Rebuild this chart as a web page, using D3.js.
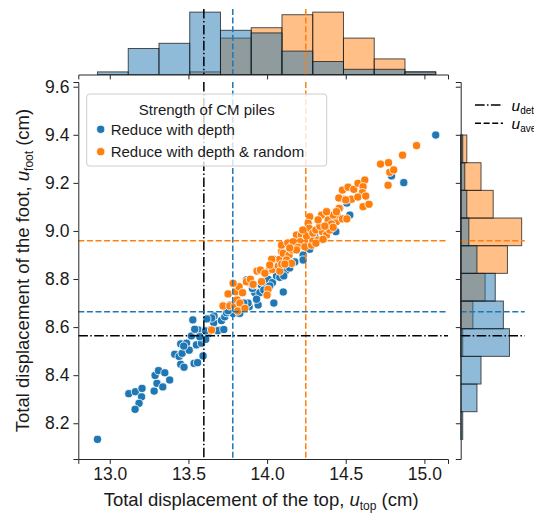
<!DOCTYPE html>
<html><head><meta charset="utf-8">
<script src="https://cdn.jsdelivr.net/npm/d3@7"></script>
<style>
body{margin:0;background:#fff;}
svg{display:block;font-family:"Liberation Sans",Arial,sans-serif;}
</style>
</head><body>
<svg id="c" width="534" height="518"></svg>
<script>
// ---------------- DATA ----------------
const seriesNames = ["Reduce with depth", "Reduce with depth & random"];
const seriesColors = ["#1f77b4", "#ff7f0e"];
const legendTitle = "Strength of CM piles";

const blueX = [12.922,13.121,13.163,13.205,13.202,13.186,13.161,13.282,13.300,13.288,13.310,13.350,13.413,13.441,13.451,13.472,13.460,13.451,13.488,13.505,
13.536,13.558,13.593,13.551,13.583,13.519,13.551,13.566,13.589,13.625,13.636,13.470,13.381,13.337,13.561,13.540,13.610,13.661,13.678,13.663,
13.700,13.608,13.572,13.528,13.648,13.617,13.687,
13.710,13.731,13.742,13.784,13.774,13.801,13.725,13.826,13.886,13.879,13.869,13.752,13.896,13.852,13.763,13.839,13.795,
13.922,13.954,13.964,13.992,14.006,14.034,14.043,14.060,14.081,14.081,13.943,13.933,14.017,13.907,13.911,13.979,
14.102,14.119,14.106,14.103,14.229,14.229,14.271,14.176,14.144,
14.437,14.462,14.335,14.303,14.386,
14.526,14.507,14.791,14.869,15.072];
const blueY = [8.133,8.323,8.331,8.345,8.310,8.283,8.258,8.334,8.366,8.399,8.419,8.410,8.487,8.478,8.445,8.433,8.491,8.530,8.533,8.504,
8.449,8.452,8.480,8.526,8.533,8.563,8.585,8.590,8.567,8.571,8.588,8.521,8.380,8.351,8.588,8.591,8.549,8.618,8.586,8.646,
8.588,8.584,8.560,8.630,8.638,8.634,8.585,
8.627,8.643,8.660,8.657,8.678,8.678,8.590,8.657,8.685,8.700,8.796,8.668,8.782,8.700,8.692,8.679,8.690,
8.743,8.743,8.775,8.782,8.799,8.785,8.700,8.813,8.838,8.807,8.692,8.716,8.771,8.761,8.775,8.754,
8.879,8.835,8.813,8.746,8.900,8.879,8.924,8.871,8.846,
8.997,9.094,8.962,8.979,9.037,
9.066,9.116,9.229,9.201,9.399];

const orangeX = [13.647,13.720,13.752,13.763,13.795,13.809,13.801,13.822,13.844,13.827,13.814,13.859,13.869,13.894,13.784,
13.911,13.936,13.958,14.006,14.000,14.013,14.034,14.043,14.071,14.081,14.081,13.965,13.986,14.029,14.093,14.092,14.092,14.017,
14.102,14.140,14.157,14.124,14.132,14.187,14.218,14.240,14.209,14.166,14.197,14.240,14.283,14.271,14.261,14.267,14.289,14.251,14.155,14.187,14.113,14.227,14.144,14.291,
14.346,14.388,14.441,14.445,14.409,14.458,14.310,14.352,14.378,14.324,14.356,14.399,14.479,14.488,14.479,14.420,14.378,14.441,14.420,14.310,14.335,14.456,14.324,14.367,
14.515,14.551,14.578,14.621,14.610,14.606,14.537,14.610,14.648,14.500,14.577,14.627,14.507,
14.721,14.772,14.780,14.805,14.769,14.861,14.950];
const orangeY = [8.588,8.688,8.738,8.688,8.688,8.713,8.747,8.768,8.743,8.700,8.667,8.678,8.789,8.799,8.782,
8.778,8.833,8.837,8.757,8.733,8.837,8.840,8.882,8.854,8.882,8.833,8.789,8.824,8.882,8.862,8.914,8.941,8.858,
8.907,8.900,8.921,8.879,8.950,8.983,8.983,8.962,8.955,8.955,8.932,8.934,8.941,9.059,9.032,9.011,8.965,8.979,8.865,8.921,8.862,9.004,8.929,8.991,
9.066,9.046,9.039,9.066,9.029,9.094,9.004,8.997,8.983,8.962,8.965,9.004,9.170,9.132,9.050,9.066,9.080,9.080,9.015,8.949,9.020,9.137,9.046,9.020,
9.182,9.173,9.198,9.212,9.184,9.159,9.132,9.101,9.111,9.129,9.141,9.145,9.050,
9.278,9.284,9.244,9.254,9.190,9.315,9.355];

const xTicks = [13.0, 13.5, 14.0, 14.5, 15.0];
const yTicks = [8.2, 8.4, 8.6, 8.8, 9.0, 9.2, 9.4, 9.6];
const xDomain = [12.80, 15.15];
const yDomain = [8.0513, 9.6196];
const binCount = 11;

// reference lines: deterministic, average (blue), average (orange)
const refNames  = ["det", "aveBlue", "aveOrange"];
const refXs     = [13.598, 13.782, 14.246];
const refYs     = [8.564, 8.664, 8.959];
const refColors = ["#000000", "#1f77b4", "#ff7f0e"];
const refStyles = ["dashdot", "dashed", "dashed"];
const legendLines = [{style:"dashdot", sub:"det"}, {style:"dashed", sub:"ave"}];

// ---------------- LAYOUT ----------------
const M = {l:78.3, r:448, t:82, b:459};
const TOP = {t:9, b:74.5};
const RIGHT = {l:460.7, r:524.7};
const dash = {dashed:"6,2.6", dashdot:"9.6,2.4,1.5,2.4"};
const axisColor = "#262626";

const svg = d3.select("#c");
const x = d3.scaleLinear().domain(xDomain).range([M.l, M.r]);
const y = d3.scaleLinear().domain(yDomain).range([M.b, M.t]);

const series = [
  {name:seriesNames[0], color:seriesColors[0], xs:blueX, ys:blueY},
  {name:seriesNames[1], color:seriesColors[1], xs:orangeX, ys:orangeY}
];

// bins over the combined data extent
function edges(arr){
  const [lo, hi] = d3.extent(arr);
  return d3.range(binCount + 1).map(i => lo + i * (hi - lo) / binCount);
}
function counts(vals, e){
  const c = new Array(binCount).fill(0);
  vals.forEach(v => {
    let k = Math.floor((v - e[0]) / (e[binCount] - e[0]) * binCount);
    if (k >= binCount) k = binCount - 1;
    if (k < 0) k = 0;
    c[k]++;
  });
  return c;
}
const xe = edges(blueX.concat(orangeX));
const ye = edges(blueY.concat(orangeY));
series.forEach(s => { s.cx = counts(s.xs, xe); s.cy = counts(s.ys, ye); });

const maxCX = d3.max(series, s => d3.max(s.cx));
const maxCY = d3.max(series, s => d3.max(s.cy));
const hy = d3.scaleLinear().domain([0, maxCX * 1.05]).range([TOP.b, TOP.t]);
const hx = d3.scaleLinear().domain([0, maxCY * 1.05]).range([RIGHT.l, RIGHT.r]);

// ---------- top histogram (orange first, blue on top) ----------
const gTop = svg.append("g");
[series[1], series[0]].forEach(s => {
  gTop.selectAll(null).data(s.cx.map((c,i)=>({c,i}))).enter().append("rect")
    .attr("x", d => x(xe[d.i])).attr("width", d => x(xe[d.i+1]) - x(xe[d.i]))
    .attr("y", d => hy(d.c)).attr("height", d => hy(0) - hy(d.c))
    .attr("fill", s.color).attr("fill-opacity", 0.5)
    .attr("stroke", "#1a1a1a").attr("stroke-opacity", 0.75).attr("stroke-width", 1);
});
refXs.forEach((v,i) => {
  gTop.append("line").attr("x1", x(v)).attr("x2", x(v)).attr("y1", TOP.t).attr("y2", TOP.b)
    .attr("stroke", refColors[i]).attr("stroke-width", 1.5).attr("stroke-dasharray", dash[refStyles[i]]);
});
const topAxis = d3.axisBottom(x).tickValues(xTicks).tickSize(4.9).tickFormat("");
gTop.append("g").attr("transform", `translate(0,${TOP.b})`).call(topAxis)
  .call(g => { g.select(".domain").attr("stroke", axisColor); g.selectAll(".tick line").attr("stroke", axisColor); });

// ---------- right histogram ----------
const gR = svg.append("g");
[series[1], series[0]].forEach(s => {
  gR.selectAll(null).data(s.cy.map((c,i)=>({c,i}))).enter().append("rect")
    .attr("y", d => y(ye[d.i+1])).attr("height", d => y(ye[d.i]) - y(ye[d.i+1]))
    .attr("x", hx(0)).attr("width", d => hx(d.c) - hx(0))
    .attr("fill", s.color).attr("fill-opacity", 0.5)
    .attr("stroke", "#1a1a1a").attr("stroke-opacity", 0.75).attr("stroke-width", 1);
});
refYs.forEach((v,i) => {
  gR.append("line").attr("y1", y(v)).attr("y2", y(v)).attr("x1", RIGHT.l).attr("x2", RIGHT.r)
    .attr("stroke", refColors[i]).attr("stroke-width", 1.5).attr("stroke-dasharray", dash[refStyles[i]]);
});
const rAxis = d3.axisLeft(y).tickValues(yTicks).tickSize(4.9).tickFormat("");
gR.append("g").attr("transform", `translate(${RIGHT.l},0)`).call(rAxis)
  .call(g => { g.select(".domain").attr("stroke", axisColor); g.selectAll(".tick line").attr("stroke", axisColor); });

// right legend (partly beyond the picture edge, as in the reference)
legendLines.forEach((L, i) => {
  const ly = 105 + i * 18.3;
  gR.append("line").attr("x1", 475).attr("x2", 503).attr("y1", ly).attr("y2", ly)
    .attr("stroke", "#000").attr("stroke-width", 1.5).attr("stroke-dasharray", dash[L.style]);
  const t = gR.append("text").attr("x", 511.5).attr("y", ly + 5.5).attr("font-size", 15.5).attr("fill", "#000");
  t.append("tspan").attr("font-style", "italic").text("u");
  t.append("tspan").attr("font-size", 10).attr("dy", 3).text(L.sub);
});

// ---------- main scatter ----------
const gM = svg.append("g");
series.forEach(s => {
  gM.selectAll(null).data(s.xs.map((v,i)=>[v, s.ys[i]])).enter().append("circle")
    .attr("cx", d => x(d[0])).attr("cy", d => y(d[1])).attr("r", 4.1)
    .attr("fill", s.color).attr("stroke", "#fff").attr("stroke-width", 0.8);
});
refXs.forEach((v,i) => {
  gM.append("line").attr("x1", x(v)).attr("x2", x(v)).attr("y1", M.t).attr("y2", M.b)
    .attr("stroke", refColors[i]).attr("stroke-width", 1.5).attr("stroke-dasharray", dash[refStyles[i]]);
});
refYs.forEach((v,i) => {
  gM.append("line").attr("y1", y(v)).attr("y2", y(v)).attr("x1", M.l).attr("x2", M.r)
    .attr("stroke", refColors[i]).attr("stroke-width", 1.5).attr("stroke-dasharray", dash[refStyles[i]]);
});

const xAxis = d3.axisBottom(x).tickValues(xTicks).tickSize(4.9).tickPadding(4).tickFormat(d3.format(".1f"));
svg.append("g").attr("transform", `translate(0,${M.b})`).call(xAxis)
  .call(g => { g.select(".domain").attr("stroke", axisColor);
               g.selectAll(".tick line").attr("stroke", axisColor);
               g.selectAll("text").attr("font-size", 17.5).attr("fill", "#1a1a1a").attr("font-family", "Liberation Sans, Arial, sans-serif"); });
const yAxis = d3.axisLeft(y).tickValues(yTicks).tickSize(4.9).tickPadding(4).tickFormat(d3.format(".1f"));
svg.append("g").attr("transform", `translate(${M.l},0)`).call(yAxis)
  .call(g => { g.select(".domain").attr("stroke", axisColor);
               g.selectAll(".tick line").attr("stroke", axisColor);
               g.selectAll("text").attr("font-size", 17.5).attr("fill", "#1a1a1a").attr("font-family", "Liberation Sans, Arial, sans-serif"); });

// axis labels
const xl = svg.append("text").attr("x", (M.l + M.r) / 2 - 2).attr("y", 506).attr("text-anchor", "middle")
  .attr("font-size", 18.5).attr("fill", "#1a1a1a");
xl.append("tspan").text("Total displacement of the top, ");
xl.append("tspan").attr("font-style", "italic").text("u");
xl.append("tspan").attr("font-size", 12).attr("dy", 4).text("top");
xl.append("tspan").attr("dy", -4).text(" (cm)");

const yl = svg.append("text").attr("transform", `translate(29,${(M.t + M.b) / 2}) rotate(-90)`)
  .attr("text-anchor", "middle").attr("font-size", 18.5).attr("fill", "#1a1a1a");
yl.append("tspan").text("Total displacement of the foot, ");
yl.append("tspan").attr("font-style", "italic").text("u");
yl.append("tspan").attr("font-size", 12).attr("dy", 4).text("foot");
yl.append("tspan").attr("dy", -4).text(" (cm)");

// ---------- legend ----------
const lg = svg.append("g");
lg.append("rect").attr("x", 86.7).attr("y", 94).attr("width", 240).attr("height", 72).attr("rx", 3)
  .attr("fill", "#fff").attr("fill-opacity", 0.8).attr("stroke", "#cccccc").attr("stroke-width", 1);
lg.append("text").attr("x", 206.7).attr("y", 114.5).attr("text-anchor", "middle").attr("font-size", 15)
  .attr("fill", "#1a1a1a").text(legendTitle);
series.forEach((s, i) => {
  const cy = 129.3 + i * 22.4;
  lg.append("circle").attr("cx", 100.7).attr("cy", cy).attr("r", 4.1).attr("fill", s.color)
    .attr("stroke", "#fff").attr("stroke-width", 0.8);
  lg.append("text").attr("x", 110.7).attr("y", cy + 5.3).attr("font-size", 15).attr("fill", "#1a1a1a").text(s.name);
});
</script>
</body></html>
